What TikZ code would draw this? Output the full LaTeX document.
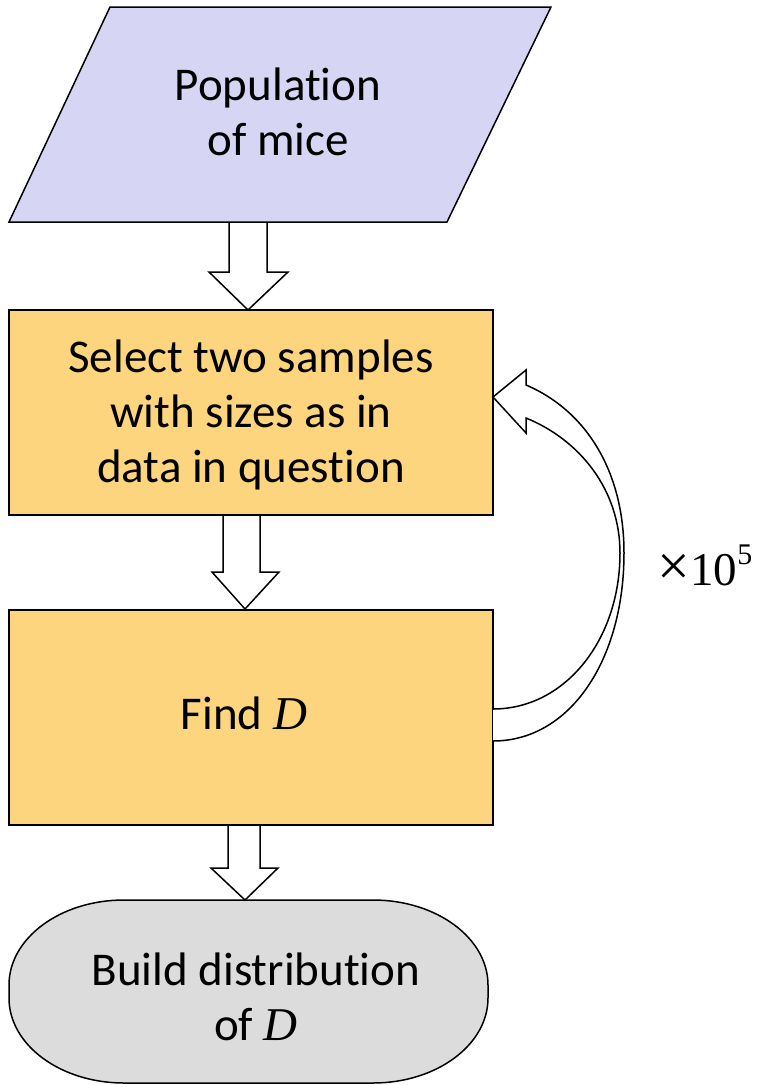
\documentclass[tikz,border=0pt]{standalone}
\usepackage{fontspec}
\setmainfont{Carlito}[Ligatures=NoCommon]
\newfontfamily\mserif{Liberation Serif}
\newcommand{\mD}{{\mserif\itshape D}}
\usetikzlibrary{calc}
\definecolor{lav}{HTML}{D6D6F4}
\definecolor{gold}{HTML}{FDD57E}
\definecolor{lgray}{HTML}{DCDCDC}
\begin{document}
\begin{tikzpicture}[x=1pt,y=-1pt,
  outl/.style={draw=black,line width=1.5pt,line join=miter},
  txt/.style={align=center,font=\fontsize{47}{55}\selectfont,inner sep=0pt},
  barrow/.style={outl,fill=white}]
\useasboundingbox (0,0) rectangle (759,1085);
% population parallelogram
\draw[outl,fill=lav] (110,7) -- (551,7) -- (447,222) -- (9,222) -- cycle;
\node[txt] (pop) at (278,112) {Population\\of mice};
% box 1
\draw[outl,fill=gold] (9,310) rectangle (493,515);
\node[txt] (sel) at (251,415) {Select two samples\\with sizes as in\\data in question};
% box 2
\draw[outl,fill=gold] (9,610) rectangle (493,825);
\node[txt] (find) at (244,713) {Find \mD};
% stadium
\draw[outl,fill=lgray] (124,900) -- (373,900) arc[start angle=90,end angle=0,x radius=115,y radius=-85]
  -- (488,998) arc[start angle=0,end angle=-90,x radius=115,y radius=-85]
  -- (124,1083) arc[start angle=-90,end angle=-180,x radius=115,y radius=-85]
  -- (9,985) arc[start angle=180,end angle=90,x radius=115,y radius=-85] -- cycle;
\node[txt] (build) at (256,997) {Build distribution\\of \mD};
% block arrows
\draw[barrow] (229,223) -- (229,272) -- (209,272) -- (248,310) -- (288,272) -- (267,272) -- (267,223);
\draw[barrow] (223,516) -- (223,572) -- (212,572) -- (245,609) -- (279,572) -- (260,572) -- (260,516);
\draw[barrow] (228,826) -- (228,868) -- (211,868) -- (245,900) -- (278,868) -- (260,868) -- (260,826);
% curved loop arrow
\draw[outl,fill=white] (493,741) .. controls (570,741) and (624,660) .. (624,553)
  .. controls (624,470) and (585,410) .. (526,385) -- (526,370) -- (493,397) -- (526,433) -- (526,418)
  .. controls (580,440) and (620,490) .. (620,553)
  .. controls (620,640) and (565,709) .. (493,709);
\node[font=\fontsize{47}{55}\selectfont\mserif,inner sep=0pt] (rep) at (705,565) {{\fontsize{58}{58}\selectfont ×}10\raisebox{0.45em}{\fontsize{30}{30}\selectfont 5}};
\end{tikzpicture}
\end{document}
